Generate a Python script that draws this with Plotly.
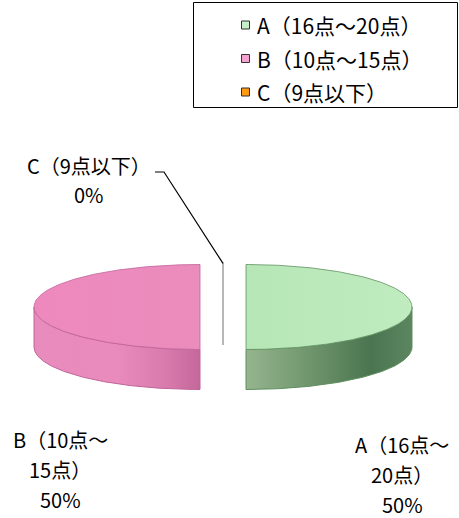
import numpy as np
import plotly.graph_objects as go

# ---- data ----
categories = ["A（16点～20点）", "B（10点～15点）", "C（9点以下）"]
values = [50, 50, 0]
legend_colors = ["#c8f0c8", "#f4a2d0", "#ff9a10"]

# ---- styling of the 3-D slices ----
top_scales = [
    [[0, "#b6e6b6"], [1, "#c0ecc0"]],
    [[0, "#ee89be"], [1, "#ea8cbc"]],
    [[0, "#ffa640"], [1, "#ffa640"]],
]
side_scales = [
    [[0, "#95b58f"], [0.35, "#73986f"], [0.75, "#4a7550"], [1, "#5b8660"]],
    [[0, "#e88cbd"], [0.5, "#e98bbc"], [0.8, "#d87aac"], [1, "#c4679a"]],
    [[0, "#e08020"], [1, "#c06010"]],
]
edge_colors = ["#5f8f5f", "#c0659a", "#a0a0a0"]
explode = [23, 23, 8]

W, H = 459, 518
cx, cy = 223, 307          # pie centre (top face)
rx, ry = 166, 42.5          # ellipse radii of the tilted pie
depth = 40                  # thickness of the pie

fig = go.Figure()

total = float(sum(values))
start = 0.0


def rim(theta, ox, oy, down=0.0):
    # clockwise angle from 12 o'clock -> projected point on the rim
    return ox + cx + rx * np.sin(theta), oy + cy - ry * np.cos(theta) + down


for i, (name, v) in enumerate(zip(categories, values)):
    sweep = 2 * np.pi * v / total
    a0, a1 = start, start + sweep
    start = a1
    mid = (a0 + a1) / 2
    ox = explode[i] * np.sin(mid)
    oy = -explode[i] * (ry / rx) * np.cos(mid)

    if v == 0:
        # zero-width slice: its radial wall is seen edge-on
        xs_t, ys_t = rim(a0, ox, oy)
        xw = [ox + cx, xs_t, xs_t, ox + cx]
        yw = [oy + cy, ys_t, ys_t + depth, oy + cy + depth]
        fig.add_trace(go.Scatter(x=xw, y=yw, mode="lines",
                                 line=dict(color=edge_colors[i], width=1.5),
                                 hoverinfo="skip", showlegend=False))
        continue

    # curved front side: the part of the rim facing the viewer
    lo, hi = max(a0, np.pi / 2), min(a1, 3 * np.pi / 2)
    if hi > lo:
        t = np.linspace(lo, hi, 120)
        xt, yt = rim(t, ox, oy)
        xb, yb = rim(t[::-1], ox, oy, depth)
        xs = np.concatenate([xt, xb, xt[:1]])
        ys = np.concatenate([yt, yb, yt[:1]])
        fig.add_trace(go.Scatter(
            x=xs, y=ys, mode="lines", fill="toself",
            fillgradient=dict(type="horizontal", colorscale=side_scales[i],
                              start=float(xs.min()), stop=float(xs.max())),
            line=dict(color=edge_colors[i], width=1),
            hoverinfo="skip", showlegend=False))

    # top face
    t = np.linspace(a0, a1, 200)
    xt, yt = rim(t, ox, oy)
    xs = np.concatenate([[ox + cx], xt, [ox + cx]])
    ys = np.concatenate([[oy + cy], yt, [oy + cy]])
    fig.add_trace(go.Scatter(
        x=xs, y=ys, mode="lines", fill="toself",
        fillgradient=dict(type="horizontal", colorscale=top_scales[i],
                          start=float(xs.min()), stop=float(xs.max())),
        line=dict(color=edge_colors[i], width=0.8),
        hoverinfo="skip", showlegend=False))

# ---- data labels ----
label_font = dict(family="Noto Sans CJK JP", size=20, color="#000000")
label_lines = [
    (["A（16点～", "20点）"], 402, 444),
    (["B（10点～", "15点）"], 60, 439),
    (["C（9点以下）"], 89, 165),
]
annotations = []
for (lines, lx, ly), v in zip(label_lines, values):
    pct = f"{round(100 * v / total):d}%"
    gap = 30 if len(lines) > 1 else 29
    for k, txt in enumerate(lines + [pct]):
        annotations.append(dict(x=lx, y=ly + k * gap,
                                text=txt, showarrow=False, xref="x", yref="y",
                                xanchor="center", yanchor="middle", font=label_font))

# leader line from the C label to its slice
c_top_x, c_top_y = cx, cy - ry - explode[2] * (ry / rx)
shapes = [dict(type="path", xref="x", yref="y",
               path=f"M 155 172 L 164 172 L {c_top_x} {c_top_y + 1}",
               line=dict(color="#000000", width=1.2))]

# ---- legend ----
shapes.append(dict(type="rect", xref="x", yref="y", x0=193.5, y0=2.5, x1=457.5, y1=107.5,
                   line=dict(color="#000000", width=1), fillcolor="rgba(0,0,0,0)"))
legend_rows = [25, 58.5, 92]
for name, col, ry_ in zip(categories, legend_colors, legend_rows):
    shapes.append(dict(type="rect", xref="x", yref="y", x0=241.5, x1=249.5,
                       y0=ry_ - 4, y1=ry_ + 4,
                       line=dict(color="#333333", width=1), fillcolor=col))
    annotations.append(dict(x=255, y=ry_, text=name, showarrow=False, xref="x", yref="y",
                            xanchor="left", yanchor="middle",
                            font=dict(family="Noto Sans CJK JP", size=21, color="#000000")))

fig.update_layout(
    width=W, height=H,
    margin=dict(l=0, r=0, t=0, b=0),
    paper_bgcolor="#ffffff", plot_bgcolor="#ffffff",
    xaxis=dict(range=[0, W], visible=False, fixedrange=True),
    yaxis=dict(range=[H, 0], visible=False, fixedrange=True),
    shapes=shapes, annotations=annotations,
    showlegend=False,
)

fig.write_html("out.html")
